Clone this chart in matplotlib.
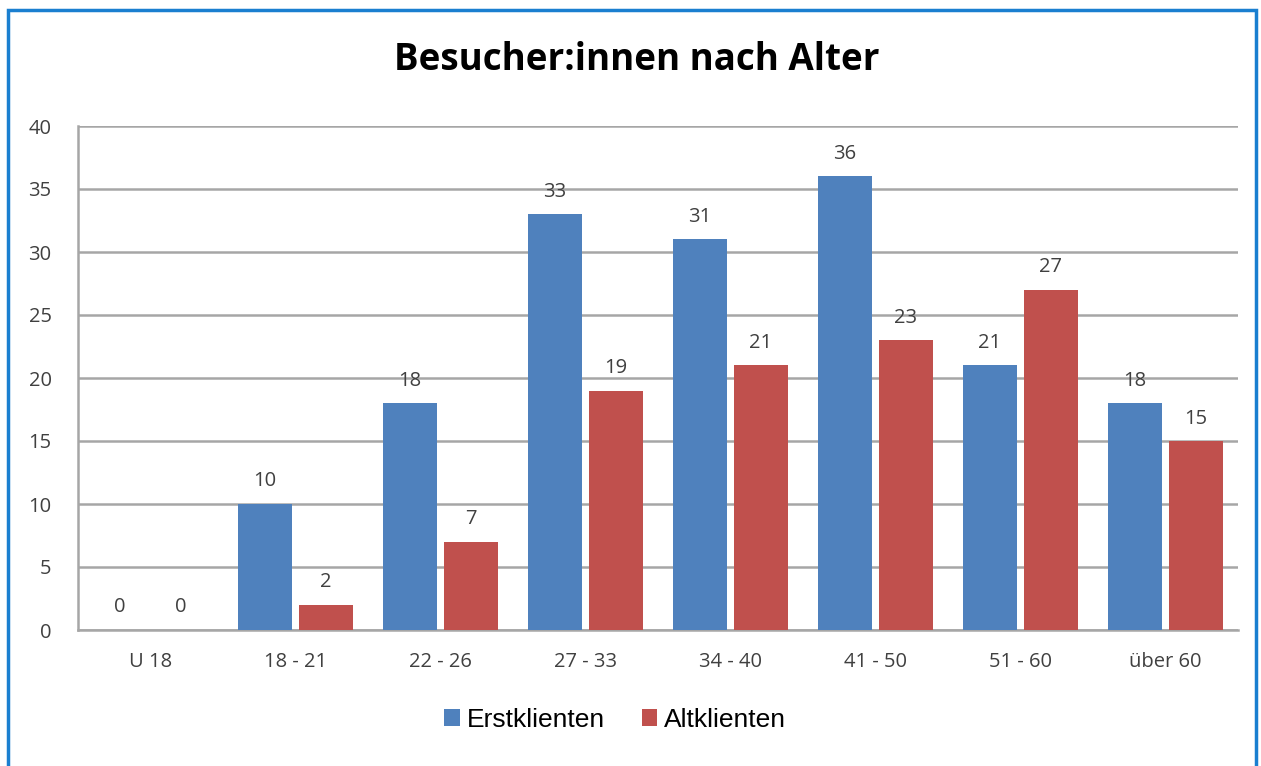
import numpy as np
import matplotlib.pyplot as plt
from matplotlib.patches import Rectangle

# Data
categories = ["U 18", "18 - 21", "22 - 26", "27 - 33", "34 - 40", "41 - 50", "51 - 60", "über 60"]
erstklienten = [0, 10, 18, 33, 31, 36, 21, 18]
altklienten = [0, 2, 7, 19, 21, 23, 27, 15]

blue = "#4f81bd"
red = "#c0504d"
grid_col = "#a6a6a6"
text_col = "#404040"

fig = plt.figure(figsize=(12.61, 7.66), dpi=100)
ax = fig.add_axes([78 / 1261, 1 - 630 / 766, (1238 - 78) / 1261, (630 - 126) / 766])

x = np.arange(len(categories))
w = 0.37
off = 0.21
b1 = ax.bar(x - off, erstklienten, w, color=blue, label="Erstklienten", zorder=3)
b2 = ax.bar(x + off, altklienten, w, color=red, label="Altklienten", zorder=3)

for bars in (b1, b2):
    for rect in bars:
        h = rect.get_height()
        ax.annotate(f"{h:.0f}", (rect.get_x() + rect.get_width() / 2, h),
                    xytext=(0, 9), textcoords="offset points",
                    ha="center", va="bottom", fontsize=14.5,
                    family="Open Sans", color=text_col)

ax.set_xlim(-0.5, len(categories) - 0.5)
ax.set_ylim(0, 40)
ax.set_yticks(range(0, 41, 5))
ax.set_xticks(x)
ax.set_xticklabels(categories)
ax.yaxis.grid(True, color=grid_col, linewidth=1.8, zorder=0)
ax.set_axisbelow(True)
ax.tick_params(length=0, labelsize=14.5, labelcolor=text_col)
ax.tick_params(axis="x", pad=16)
ax.tick_params(axis="y", pad=19)
for lab in ax.get_xticklabels() + ax.get_yticklabels():
    lab.set_family("Open Sans")
for s in ["top", "right"]:
    ax.spines[s].set_visible(False)
for s in ["left", "bottom"]:
    ax.spines[s].set_color(grid_col)
    ax.spines[s].set_linewidth(1.8)

fig.text(637 / 1261, 1 - 60 / 766, "Besucher:innen nach Alter", ha="center", va="center",
         fontsize=26.5, fontweight="bold", family="Open Sans", color="black")

leg = fig.legend(handles=[b1, b2], loc="center", bbox_to_anchor=(615 / 1261, 1 - 720 / 766),
                 ncol=2, frameon=False, prop={"family": "Liberation Sans", "size": 19},
                 handlelength=0.6, handleheight=0.6, handletextpad=0.25, columnspacing=1.4)

# outer chart border (blue)
fig.patches.append(Rectangle((8 / 1261, -0.05), (1256 - 8) / 1261, 1.05 - 10 / 766,
                             transform=fig.transFigure, fill=False,
                             edgecolor="#1a7fd0", linewidth=2.5))

fig.savefig("out.png", dpi=100)
